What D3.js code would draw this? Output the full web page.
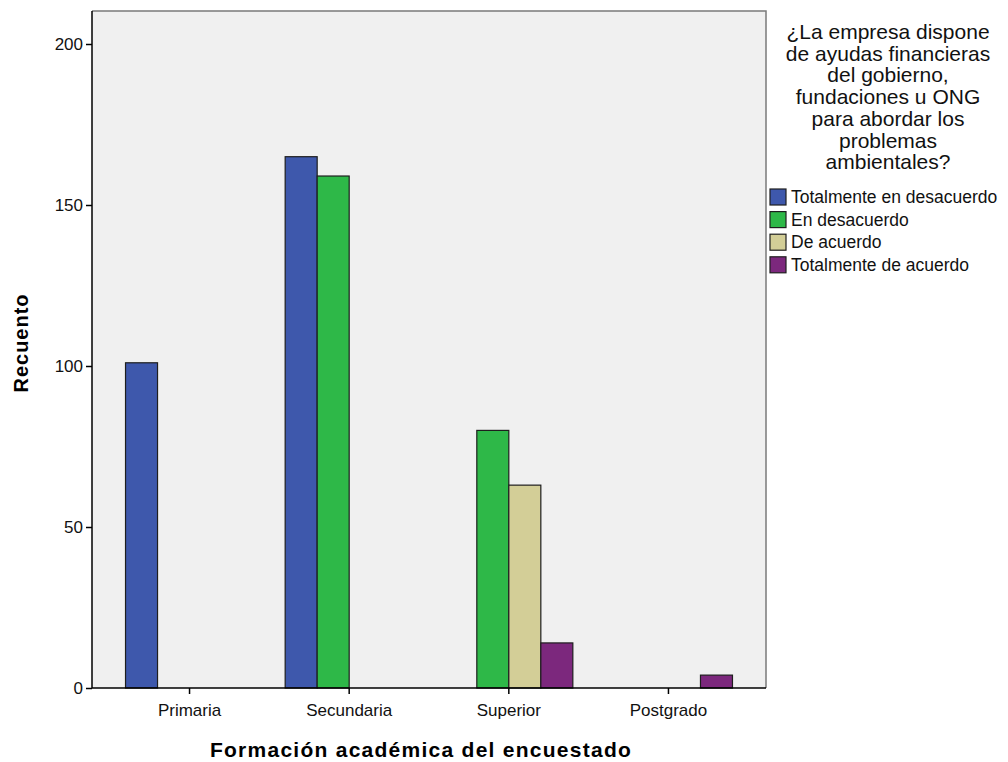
<!DOCTYPE html>
<html>
<head>
<meta charset="utf-8">
<script src="https://cdn.jsdelivr.net/npm/d3@7"></script>
<style>
  html, body { margin: 0; padding: 0; background: #ffffff; }
  svg { display: block; font-family: "Liberation Sans", Arial, sans-serif; }
</style>
</head>
<body>
<svg id="chart" width="1008" height="762"></svg>
<script>
// Education levels (x axis categories)
const categories = ["Primaria", "Secundaria", "Superior", "Postgrado"];
// Response options (legend series)
const series = ["Totalmente en desacuerdo", "En desacuerdo", "De acuerdo", "Totalmente de acuerdo"];
const seriesColors = ["#3e58ac", "#2eb848", "#d3ce97", "#7c287d"];
// Counts per series, one value per category
const totDesacuerdo = [101, 165, 0, 0];
const enDesacuerdo  = [0, 159, 80, 0];
const deAcuerdo     = [0, 0, 63, 0];
const totAcuerdo    = [0, 0, 14, 4];
const yTicks = [0, 50, 100, 150, 200];
const legendTitle = ["¿La empresa dispone", "de ayudas financieras", "del gobierno,",
  "fundaciones u ONG", "para abordar los", "problemas", "ambientales?"];

const values = [totDesacuerdo, enDesacuerdo, deAcuerdo, totAcuerdo];

const svg = d3.select("#chart");
const plot = { left: 92, right: 766, top: 11, bottom: 688 };

const x = d3.scaleBand()
  .domain(categories)
  .range([plot.left, plot.right])
  .paddingInner(0.198)
  .paddingOuter(0.21);

const xInner = d3.scaleBand()
  .domain(series)
  .range([0, x.bandwidth()]);

const y = d3.scaleLinear().domain([0, 200]).range([plot.bottom, 44]);

// Plot background
svg.append("rect")
  .attr("x", plot.left).attr("y", plot.top)
  .attr("width", plot.right - plot.left).attr("height", plot.bottom - plot.top)
  .attr("fill", "#f0f0f0");

// Bars (zero counts are not drawn)
const rows = [];
series.forEach((s, si) => {
  categories.forEach((c, ci) => {
    const v = values[si][ci];
    if (v > 0) rows.push({ s, si, c, v });
  });
});

svg.append("g").selectAll("rect")
  .data(rows)
  .join("rect")
  .attr("x", d => x(d.c) + xInner(d.s))
  .attr("y", d => y(d.v))
  .attr("width", xInner.bandwidth())
  .attr("height", d => y(0) - y(d.v))
  .attr("fill", d => seriesColors[d.si])
  .attr("stroke", "#1e1e1e")
  .attr("stroke-width", 1.2);

// Frame: top and right edges grey, axes dark
svg.append("path")
  .attr("d", `M${plot.left},${plot.top}H${plot.right}V${plot.bottom}`)
  .attr("fill", "none").attr("stroke", "#7a7a7a").attr("stroke-width", 1.5);

// Y axis
const yAxis = svg.append("g")
  .attr("transform", `translate(${plot.left},0)`)
  .call(d3.axisLeft(y).tickValues(yTicks).tickSize(6).tickPadding(3).tickFormat(d3.format("d")));
yAxis.select(".domain").attr("stroke", "#000").attr("stroke-width", 1.5)
  .attr("d", `M0,${plot.top}V${plot.bottom}`);
yAxis.selectAll(".tick line").attr("stroke", "#000").attr("stroke-width", 1.5);
yAxis.selectAll(".tick text").attr("font-size", 17).attr("fill", "#111")
  .attr("font-family", "Liberation Sans, Arial, sans-serif");

// X axis
const xAxis = svg.append("g")
  .attr("transform", `translate(0,${plot.bottom})`)
  .call(d3.axisBottom(x).tickSize(6).tickPadding(10));
xAxis.select(".domain").attr("stroke", "#000").attr("stroke-width", 1.5)
  .attr("d", `M${plot.left},0H${plot.right}`);
xAxis.selectAll(".tick line").attr("stroke", "#000").attr("stroke-width", 1.5);
xAxis.selectAll(".tick text").attr("font-size", 17).attr("fill", "#111")
  .attr("font-family", "Liberation Sans, Arial, sans-serif");

// Axis titles
svg.append("text")
  .attr("x", 421).attr("y", 757)
  .attr("text-anchor", "middle")
  .attr("font-size", 21).attr("font-weight", "bold").attr("letter-spacing", 1.26)
  .attr("fill", "#000")
  .text("Formación académica del encuestado");

svg.append("text")
  .attr("transform", "translate(28,343) rotate(-90)")
  .attr("text-anchor", "middle")
  .attr("font-size", 20).attr("font-weight", "bold").attr("letter-spacing", 1)
  .attr("fill", "#000")
  .text("Recuento");

// Legend title
svg.append("g").selectAll("text")
  .data(legendTitle)
  .join("text")
  .attr("x", 888)
  .attr("y", (d, i) => 39 + i * 21.7)
  .attr("text-anchor", "middle")
  .attr("font-size", 21)
  .attr("fill", "#111")
  .text(d => d);

// Legend items
const legend = svg.append("g").selectAll("g")
  .data(series)
  .join("g")
  .attr("transform", (d, i) => `translate(770,${189 + i * 22.6})`);
legend.append("rect")
  .attr("width", 16).attr("height", 16)
  .attr("fill", (d, i) => seriesColors[i])
  .attr("stroke", "#1e1e1e").attr("stroke-width", 1.2);
legend.append("text")
  .attr("x", 21).attr("y", 14)
  .attr("font-size", 17.5)
  .attr("fill", "#111")
  .text(d => d);
</script>
</body>
</html>
